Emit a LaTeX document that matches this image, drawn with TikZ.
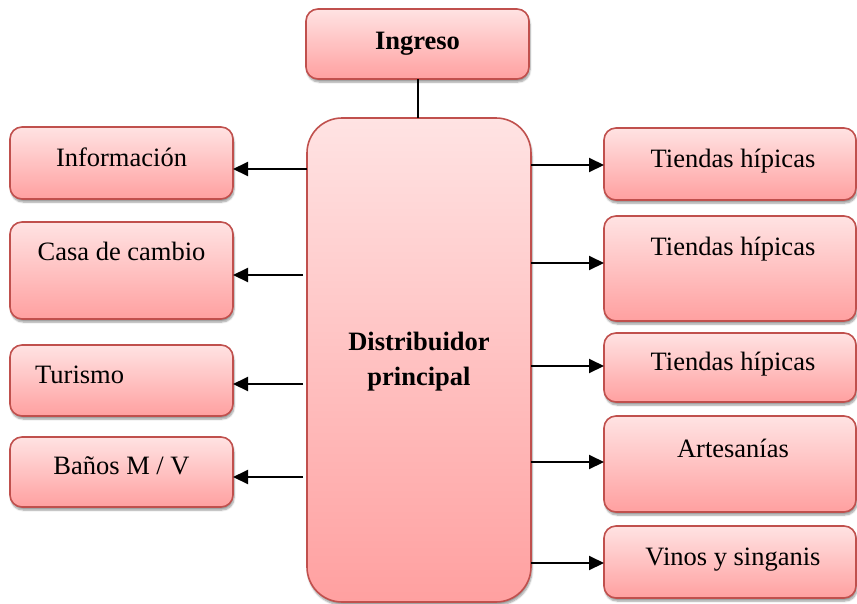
\documentclass[tikz,border=0pt]{standalone}
\usepackage{fontspec}
\setmainfont{Liberation Serif}
\usetikzlibrary{arrows.meta,shadows.blur}
\definecolor{bordc}{HTML}{C0504D}
\definecolor{ptop}{HTML}{FFE3E3}
\definecolor{pbot}{HTML}{FFA0A0}
\tikzset{
  box/.style={draw=bordc, line width=1.6pt, rounded corners=12pt, top color=ptop, bottom color=pbot,
    blur shadow={shadow xshift=1pt, shadow yshift=-3pt, shadow blur steps=6, shadow opacity=40},
    inner sep=0pt, outer sep=0pt},
  lbl/.style={anchor=base, inner sep=0pt, font=\fontsize{26.5}{32}\selectfont},
  blbl/.style={lbl, font=\fontsize{26.5}{32}\selectfont\bfseries},
  arr/.style={line width=2pt, -{Triangle[length=15pt,width=14pt]}},
  con/.style={line width=2pt}
}
\begin{document}
\begin{tikzpicture}[x=1pt,y=-1pt]
\useasboundingbox (0,0) rectangle (857,603);
% boxes
\node[box, minimum width=223pt, minimum height=70pt] (ing) at (417.5,44) {};
\node[box, rounded corners=35pt, minimum width=224pt, minimum height=484pt] (dist) at (419,360) {};
\node[box, minimum width=223pt, minimum height=72pt] (info) at (121.5,163) {};
\node[box, minimum width=223pt, minimum height=97pt] (casa) at (121.5,270.5) {};
\node[box, minimum width=223pt, minimum height=71pt] (tur) at (121.5,380.5) {};
\node[box, minimum width=223pt, minimum height=70pt] (banos) at (121.5,472) {};
\node[box, minimum width=252pt, minimum height=72pt] (t1) at (730,164) {};
\node[box, minimum width=252pt, minimum height=105pt] (t2) at (730,268.5) {};
\node[box, minimum width=252pt, minimum height=69pt] (t3) at (730,367.5) {};
\node[box, minimum width=252pt, minimum height=96pt] (art) at (730,464) {};
\node[box, minimum width=252pt, minimum height=72pt] (vinos) at (730,562) {};
% texts
\node[blbl] (ingT) at (417.5,49) {Ingreso};
\node[blbl] (d1) at (419,350) {Distribuidor};
\node[blbl] (d2) at (419,385) {principal};
\node[lbl] (infoT) at (121.5,166) {Información};
\node[lbl] (casaT) at (121.5,260) {Casa de cambio};
\node[lbl, anchor=base west] (turT) at (35,383) {Turismo};
\node[lbl] (banosT) at (121.5,474) {Baños M / V};
\node[lbl] (t1T) at (733,167) {Tiendas hípicas};
\node[lbl] (t2T) at (733,255) {Tiendas hípicas};
\node[lbl] (t3T) at (733,370) {Tiendas hípicas};
\node[lbl] (artT) at (733,457) {Artesanías};
\node[lbl] (vinosT) at (733,565) {Vinos y singanis};
% connectors
\draw[con] (ing.south) -- (ing.south |- dist.north);
\draw[arr] (dist.west |- 0,169) -- (info.east |- 0,169);
\draw[arr] ([xshift=-4pt]dist.west |- 0,275) -- (casa.east |- 0,275);
\draw[arr] ([xshift=-4pt]dist.west |- 0,384) -- (tur.east |- 0,384);
\draw[arr] ([xshift=-4pt]dist.west |- 0,477) -- (banos.east |- 0,477);
\draw[arr] (dist.east |- 0,165) -- (t1.west |- 0,165);
\draw[arr] (dist.east |- 0,263) -- (t2.west |- 0,263);
\draw[arr] (dist.east |- 0,366) -- (t3.west |- 0,366);
\draw[arr] (dist.east |- 0,462) -- (art.west |- 0,462);
\draw[arr] (dist.east |- 0,563) -- (vinos.west |- 0,563);
\end{tikzpicture}
\end{document}
